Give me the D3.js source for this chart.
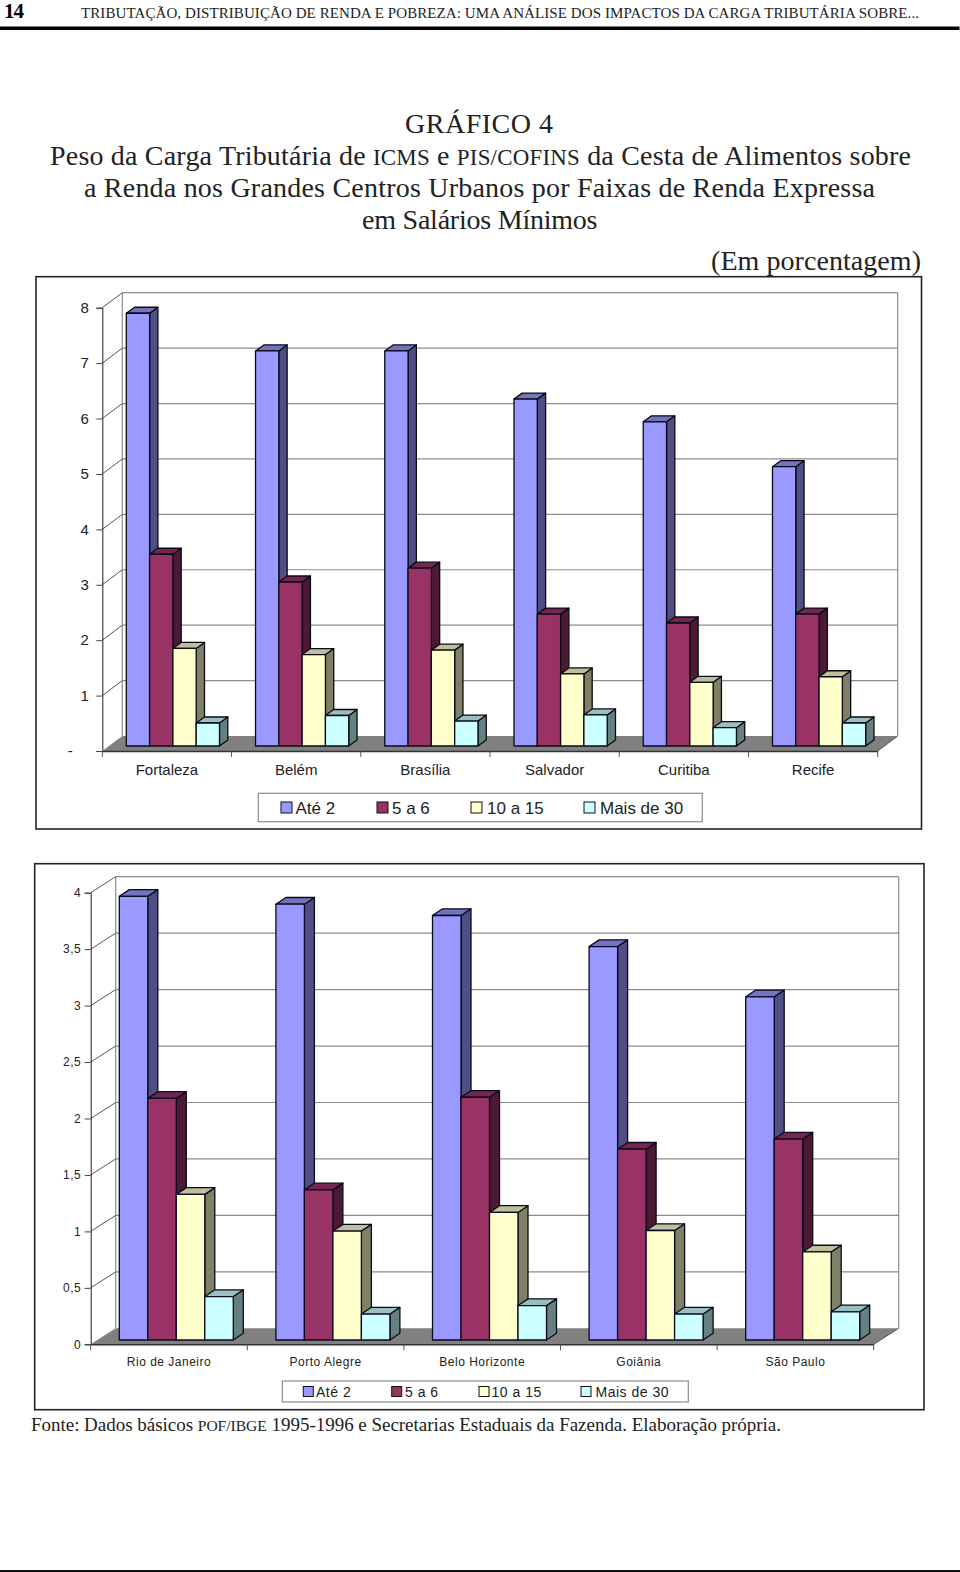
<!DOCTYPE html>
<html><head><meta charset="utf-8">
<script src="https://d3js.org/d3.v7.min.js"></script>
<style>html,body{margin:0;padding:0;background:#fff}svg{display:block}</style></head>
<body><svg id="page" width="960" height="1572"></svg>
<script>
const seriesNames = ["Até 2","5 a 6","10 a 15","Mais de 30"];
const frontColors = ["#9999ff","#993366","#ffffcc","#ccffff"];
const sideColors  = ["#4f4f85","#4d1a33","#808066","#668080"];
const topColors   = ["#7373bf","#732650","#bfbf99","#99bfbf"];

const citiesA = ["Fortaleza","Belém","Brasília","Salvador","Curitiba","Recife"];
const ate2A   = [7.81,7.13,7.13,6.26,5.85,5.04];
const cinco6A = [3.46,2.96,3.21,2.38,2.22,2.38];
const dez15A  = [1.76,1.65,1.73,1.30,1.15,1.25];
const mais30A = [0.415,0.55,0.45,0.56,0.33,0.415];
const ticksA  = [0,1,2,3,4,5,6,7,8];

const citiesB = ["Rio de Janeiro","Porto Alegre","Belo Horizonte","Goiânia","São Paulo"];
const ate2B   = [3.93,3.86,3.76,3.485,3.04];
const cinco6B = [2.14,1.33,2.15,1.69,1.78];
const dez15B  = [1.29,0.965,1.13,0.97,0.78];
const mais30B = [0.385,0.23,0.305,0.23,0.25];
const ticksB  = [0,0.5,1,1.5,2,2.5,3,3.5,4];

const svg = d3.select("#page");
const SERIF = "'Liberation Serif','DejaVu Serif',serif";
const SANS = "'Liberation Sans',Arial,sans-serif";

function drawChart(o){
  const g = svg.append("g");
  g.append("rect").attr("x",o.frame[0]).attr("y",o.frame[1]).attr("width",o.frame[2]-o.frame[0]).attr("height",o.frame[3]-o.frame[1])
    .attr("fill","#fff").attr("stroke","#222").attr("stroke-width",1.6);
  const y = d3.scaleLinear().domain([0,d3.max(o.ticks)]).range([o.y0,o.y1]);
  const x = d3.scaleBand().domain(o.cats).range([o.x0,o.x1]);
  const inner = d3.scaleBand().domain(seriesNames).range([0,o.barW*4]);
  const bw = inner.bandwidth();
  const grid = "#8c8c8c";
  // floor
  g.append("path").attr("d",d3.line()([[o.x0,o.y0],[o.x0+o.dx,o.y0-o.dy],[o.x1+o.dx,o.y0-o.dy],[o.x1,o.y0]])+"Z").attr("fill","#808080");
  // gridlines on back wall
  g.selectAll(".grid").data(o.ticks.slice(1)).join("line")
    .attr("x1",o.x0+o.dx).attr("x2",o.x1+o.dx).attr("y1",d=>y(d)-o.dy).attr("y2",d=>y(d)-o.dy)
    .attr("stroke",grid).attr("stroke-width",1.2);
  [o.x0+o.dx,o.x1+o.dx].forEach(px=>g.append("line").attr("x1",px).attr("x2",px).attr("y1",y(d3.max(o.ticks))-o.dy).attr("y2",o.y0-o.dy).attr("stroke",grid).attr("stroke-width",1.2));
  // diagonals on side wall
  g.selectAll(".diag").data(o.ticks.slice(1)).join("line")
    .attr("x1",o.x0).attr("x2",o.x0+o.dx).attr("y1",d=>y(d)).attr("y2",d=>y(d)-o.dy)
    .attr("stroke","#555").attr("stroke-width",1);
  g.append("line").attr("x1",o.x1).attr("x2",o.x1+o.dx).attr("y1",o.y0).attr("y2",o.y0-o.dy).attr("stroke","#555").attr("stroke-width",1);
  // bars
  const yBar = v => y(v)-o.lift;
  o.cats.forEach((c,ci)=>{
    o.series.forEach((vals,si)=>{
      const v = vals[ci], L = x(c)+o.inset+inner(seriesNames[si]), R = L+bw, T = yBar(v), B = yBar(0);
      const b = g.append("g").attr("stroke",o.barStroke).attr("stroke-width",1.3).attr("stroke-linejoin","round");
      b.append("path").attr("fill",sideColors[si]).attr("d",d3.line()([[R,T],[R+o.bdx,T-o.bdy],[R+o.bdx,B-o.bdy],[R,B]])+"Z");
      b.append("path").attr("fill",topColors[si]).attr("d",d3.line()([[L,T],[L+o.bdx,T-o.bdy],[R+o.bdx,T-o.bdy],[R,T]])+"Z");
      b.append("rect").attr("fill",frontColors[si]).attr("x",L).attr("y",T).attr("width",bw).attr("height",B-T);
    });
  });
  // y axis
  const ax = g.append("g").attr("transform",`translate(${o.x0},0)`)
    .call(d3.axisLeft(y).tickValues(o.ticks).tickSize(o.tick).tickPadding(o.yPad).tickFormat(o.fmt));
  ax.selectAll("path").attr("stroke","#333").attr("stroke-width",1.1);
  ax.selectAll("line").attr("stroke","#444").attr("stroke-width",1);
  ax.selectAll("text").attr("font-family",SANS).attr("font-size",o.yFont).attr("fill","#222").attr("letter-spacing",o.ls);
  ax.selectAll("text").filter(d=>d===0).attr("dx",o.zeroDx);
  // x axis
  const bx = g.append("g").attr("transform",`translate(0,${o.y0})`).call(d3.axisBottom(x).tickSize(0).tickPadding(o.xPad));
  bx.select("path").attr("stroke","#333").attr("stroke-width",1.6);
  bx.selectAll("text").attr("font-family",SANS).attr("font-size",o.xFont).attr("fill","#222").attr("letter-spacing",o.ls);
  g.selectAll(".xt").data(o.cats.concat([null])).join("line")
    .attr("x1",d=>d===null?o.x1:x(d)).attr("x2",d=>d===null?o.x1:x(d)).attr("y1",o.y0).attr("y2",o.y0+o.tick)
    .attr("stroke","#555").attr("stroke-width",1);
  // legend
  const l = o.legend;
  g.append("rect").attr("x",l.box[0]).attr("y",l.box[1]).attr("width",l.box[2]-l.box[0]).attr("height",l.box[3]-l.box[1])
    .attr("fill","#fff").attr("stroke","#8c8c8c").attr("stroke-width",1.2);
  seriesNames.forEach((s,i)=>{
    const cy=(l.box[1]+l.box[3])/2;
    g.append("rect").attr("x",l.swatch[i]).attr("y",cy-l.size/2).attr("width",l.size).attr("height",l.size)
      .attr("fill",frontColors[i]).attr("stroke","#111").attr("stroke-width",1);
    g.append("text").attr("x",l.text[i]).attr("y",cy+l.font*0.36).text(s)
      .attr("font-family",SANS).attr("font-size",l.font).attr("fill","#222").attr("letter-spacing",o.ls);
  });
}

drawChart({cats:citiesA,series:[ate2A,cinco6A,dez15A,mais30A],ticks:ticksA,fmt:d=>d===0?"-":String(d),
  frame:[36,276.7,921.5,829],x0:102.3,x1:877.7,y0:751,y1:307.7,dx:20,dy:15,lift:5,inset:24,barW:23.3,bdx:8.3,bdy:6,
  tick:6,yPad:7.5,yFont:15,xFont:15,xPad:13,ls:0,zeroDx:-16,barStroke:"#0a0a14",
  legend:{box:[258.3,793.3,702.3,821.7],swatch:[281,377,471,584],text:[295.5,392,487,600],size:11,font:17}});
drawChart({cats:citiesB,series:[ate2B,cinco6B,dez15B,mais30B],ticks:ticksB,fmt:d=>String(d).replace(".",","),
  frame:[34.7,863.7,924,1409.7],x0:90.7,x1:873.7,y0:1344.3,y1:892.7,dx:25,dy:16,lift:4.3,inset:28.6,barW:28.5,bdx:10,bdy:6.7,
  tick:6,yPad:3.5,yFont:12,xFont:12,xPad:13.5,ls:0.5,zeroDx:0,barStroke:"#0a0a20",
  legend:{box:[282.3,1381,688.3,1402],swatch:[303.3,391.7,479,581],text:[316,405,491.5,595.5],size:10,font:14}});

function serifText(parts,x0,x1,base,size){
  const t = svg.append("text").attr("x",x0).attr("y",base).attr("font-family",SERIF).attr("font-size",size).attr("fill","#222")
    .attr("textLength",x1-x0).attr("lengthAdjust","spacing");
  parts.forEach(p=>{
    const small = p.startsWith("~");
    t.append("tspan").text(small?p.slice(1):p).attr("font-size",small?size*0.82:size);
  });
  return t;
}
serifText(["14"],4,24,17.5,21).attr("font-weight","bold").attr("fill","#000");
serifText(["TRIBUTAÇÃO, DISTRIBUIÇÃO DE RENDA E POBREZA: UMA ANÁLISE DOS IMPACTOS DA CARGA TRIBUTÁRIA SOBRE..."],81,919,18,15);
svg.append("rect").attr("x",0).attr("y",26.5).attr("width",959.5).attr("height",3.5).attr("fill","#000");
svg.append("rect").attr("x",0).attr("y",1570).attr("width",960).attr("height",2).attr("fill","#111");
serifText(["GRÁFICO 4"],405,553,133,28);
serifText(["Peso da Carga Tributária de ","~ICMS"," e ","~PIS/COFINS"," da Cesta de Alimentos sobre"],50,911,165,28);
serifText(["a Renda nos Grandes Centros Urbanos por Faixas de Renda Expressa"],84,875,197,28);
serifText(["em Salários Mínimos"],362,597.5,229,28);
serifText(["(Em porcentagem)"],711,921,269.5,28);
serifText(["Fonte: Dados básicos ","~POF/IBGE"," 1995-1996 e Secretarias Estaduais da Fazenda. Elaboração própria."],31,781,1431,19);
</script></body></html>
